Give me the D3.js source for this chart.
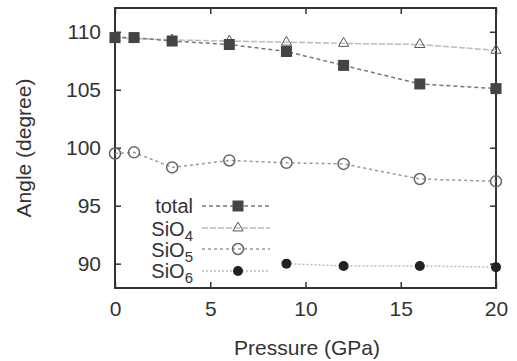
<!DOCTYPE html>
<html>
<head>
<meta charset="utf-8">
<script src="https://cdn.jsdelivr.net/npm/d3@7"></script>
<style>
  body { margin: 0; background: #fff; }
  text { font-family: "Liberation Sans", Arial, sans-serif; fill: #333; }
</style>
</head>
<body>
<svg id="chart" width="517" height="361"></svg>
<script>
// pressure points (GPa)
const pressure = [0, 1, 3, 6, 9, 12, 16, 20];
const total = [109.5, 109.5, 109.2, 108.9, 108.3, 107.1, 105.5, 105.1];
const sio4 = [109.5, 109.4, 109.3, 109.2, 109.1, 109.0, 108.9, 108.4];
const sio5 = [99.5, 99.6, 98.3, 98.9, 98.7, 98.6, 97.3, 97.1];
const sio6Pressure = [9, 12, 16, 20];
const sio6 = [90.0, 89.8, 89.8, 89.7];
const xTicks = [0, 5, 10, 15, 20];
const yTicks = [90, 95, 100, 105, 110];

const svg = d3.select("#chart");
const margin = { top: 8, right: 21, bottom: 73, left: 115 };
const width = 517 - margin.left - margin.right;
const height = 361 - margin.top - margin.bottom;
const fontSize = 21;

const g = svg.append("g").attr("transform", `translate(${margin.left},${margin.top})`);

const x = d3.scaleLinear().domain([0, 20]).range([0, width]);
const y = d3.scaleLinear().domain([87.9, 112.05]).range([height, 0]);

// axes with inward ticks on all four sides
const tickStyle = (sel) => {
  sel.select(".domain").remove();
  sel.selectAll("line").attr("stroke", "#333").attr("stroke-width", 1.5);
  sel.selectAll("text").attr("font-size", fontSize).attr("fill", "#333");
};
g.append("g").attr("transform", `translate(0,${height})`)
  .call(d3.axisBottom(x).tickValues(xTicks).tickSize(-6).tickPadding(13))
  .call(tickStyle);
g.append("g")
  .call(d3.axisTop(x).tickValues(xTicks).tickSize(-6).tickFormat(""))
  .call(tickStyle);
g.append("g")
  .call(d3.axisLeft(y).tickValues(yTicks).tickSize(-6).tickPadding(14))
  .call(tickStyle);
g.append("g").attr("transform", `translate(${width},0)`)
  .call(d3.axisRight(y).tickValues(yTicks).tickSize(-6).tickFormat(""))
  .call(tickStyle);

g.append("rect").attr("width", width).attr("height", height)
  .attr("fill", "none").attr("stroke", "#333").attr("stroke-width", 2);

// series definitions
const series = [
  { name: "total", xs: pressure, ys: total, stroke: "#777", dash: "4,3", marker: "square" },
  { name: "SiO4", sub: "4", xs: pressure, ys: sio4, stroke: "#bbb", dash: "6,2", marker: "triangle" },
  { name: "SiO5", sub: "5", xs: pressure, ys: sio5, stroke: "#999", dash: "3,3", marker: "circle" },
  { name: "SiO6", sub: "6", xs: sio6Pressure, ys: sio6, stroke: "#bbb", dash: "2,2", marker: "dot" }
];

function drawMarker(sel, type, cx, cy) {
  if (type === "square") {
    sel.append("rect").attr("x", cx - 5.5).attr("y", cy - 5.5).attr("width", 11).attr("height", 11)
      .attr("fill", "#444");
  } else if (type === "triangle") {
    sel.append("path").attr("d", d3.symbol(d3.symbolTriangle, 45)())
      .attr("transform", `translate(${cx},${cy})`)
      .attr("fill", "none").attr("stroke", "#555").attr("stroke-width", 1);
  } else if (type === "circle") {
    sel.append("circle").attr("cx", cx).attr("cy", cy).attr("r", 5.5)
      .attr("fill", "none").attr("stroke", "#666").attr("stroke-width", 1.5);
  } else {
    sel.append("circle").attr("cx", cx).attr("cy", cy).attr("r", 5)
      .attr("fill", "#222");
  }
}

const line = d3.line().x((d) => x(d[0])).y((d) => y(d[1]));

// draw back to front so the squares sit on top like the reference
[3, 2, 1, 0].forEach((i) => {
  const s = series[i];
  const pts = s.xs.map((p, j) => [p, s.ys[j]]);
  g.append("path").datum(pts).attr("d", line)
    .attr("fill", "none").attr("stroke", s.stroke).attr("stroke-width", 1.5)
    .attr("stroke-dasharray", s.dash);
  const mg = g.append("g");
  pts.forEach((d) => drawMarker(mg, s.marker, x(d[0]), y(d[1])));
});

// legend
const legendY = [206, 228, 249, 271];
const legendBase = [213, 236, 257, 278];
const legend = svg.append("g");
series.forEach((s, i) => {
  const ly = legendY[i];
  const t = legend.append("text").attr("x", 193).attr("y", legendBase[i])
    .attr("text-anchor", "end").attr("font-size", 20);
  if (s.sub) {
    t.append("tspan").text("SiO");
    t.append("tspan").attr("dy", 5).attr("font-size", 15).text(s.sub);
  } else {
    t.text(s.name);
  }
  legend.append("line").attr("x1", 202).attr("x2", 270).attr("y1", ly).attr("y2", ly)
    .attr("stroke", s.stroke).attr("stroke-width", 1.5).attr("stroke-dasharray", s.dash);
  drawMarker(legend, s.marker, 238, ly);
});

// axis titles
svg.append("text").attr("x", 307).attr("y", 355).attr("text-anchor", "middle")
  .attr("font-size", fontSize).text("Pressure (GPa)");
svg.append("text").attr("transform", "translate(31,148) rotate(-90)")
  .attr("text-anchor", "middle").attr("font-size", fontSize).text("Angle (degree)");
</script>
</body>
</html>
